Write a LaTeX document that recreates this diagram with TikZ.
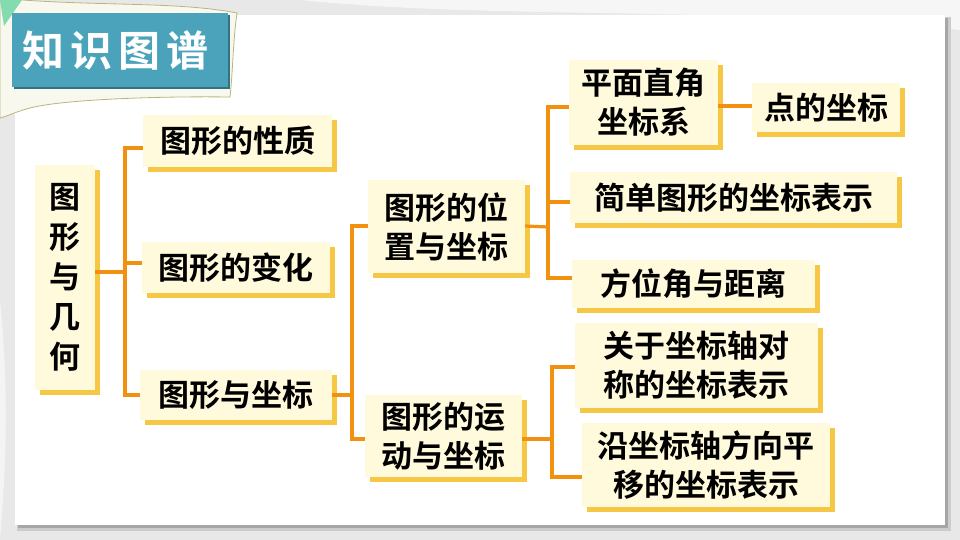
\documentclass[tikz,border=0pt]{standalone}
\usepackage{fontspec}
\newfontfamily\cjk{Noto Sans CJK SC}[BoldFont={Noto Sans CJK SC Bold}]
\definecolor{boxfill}{HTML}{FFFADB}
\definecolor{boxshadow}{HTML}{F6C744}
\definecolor{conncol}{HTML}{F2900F}
\definecolor{teal}{HTML}{4AA3BB}
\definecolor{bggrey}{HTML}{E8E8E8}
\definecolor{papercol}{HTML}{F9F8EF}
\definecolor{paperline}{HTML}{B9B57F}
\tikzset{
  box/.style={fill=boxfill, inner sep=0pt, align=center,
    font=\cjk\bfseries\fontsize{31}{39}\selectfont,
    preaction={fill=boxshadow, transform canvas={shift={(5pt,-5pt)}}}},
  conn/.style={draw=conncol, line width=3.2pt, line join=miter},
}
\begin{document}
\begin{tikzpicture}[x=1pt,y=-1pt]
\useasboundingbox (0,0) rectangle (960,540);
% background
\fill[bggrey] (0,0) rectangle (960,540);
\fill[white!60!bggrey] (300,0) .. controls (500,20) and (700,5) .. (960,30) -- (960,0) -- cycle;
\fill[white!50!bggrey] (0,300) .. controls (10,400) and (5,480) .. (0,540) -- cycle;
% panel shadow and panel
\fill[black!20] (17,17) rectangle (951,531);
\fill[black!35] (18,18) rectangle (948,528);
\fill[white] (15,15) rectangle (945,525);
% paper behind title
\filldraw[fill=papercol, draw=paperline, line width=0.8pt]
  (22,0) .. controls (110,6) and (180,2) .. (237,13)
  .. controls (233,40) and (233,70) .. (230,97)
  .. controls (150,96) and (60,100) .. (30,108)
  .. controls (15,112) and (8,116) .. (0,118) -- (0,0) -- cycle;
\fill[green!35!teal!60!white] (0,0) -- (22,0) -- (4,26) -- cycle;
% title
\fill[teal!70!black] (14,15) rectangle (230,89);
\fill[teal] (12,13) rectangle (228,87);
\node[text=white, font=\cjk\bfseries\fontsize{42}{42}\selectfont] (titletext) at (115.5,50.5)
  {知\hspace{6pt}识\hspace{6pt}图\hspace{6pt}谱};
% nodes
\node[box, minimum width=60pt, minimum height=225pt, font=\cjk\bfseries\fontsize{31}{40}\selectfont] (root) at (65,277.5) {图\\形\\与\\几\\何};
\node[box, minimum width=189pt, minimum height=52pt] (p1) at (237.5,141) {图形的性质};
\node[box, minimum width=188pt, minimum height=51pt] (p2) at (236,267.5) {图形的变化};
\node[box, minimum width=192pt, minimum height=50pt] (p3) at (236,395) {图形与坐标};
\node[box, minimum width=157pt, minimum height=93pt] (q1) at (446.5,226.5) {图形的位\\置与坐标};
\node[box, minimum width=157pt, minimum height=82pt] (q2) at (443.5,436) {图形的运\\动与坐标};
\node[box, minimum width=149pt, minimum height=85pt] (r1) at (643.5,102.5) {平面直角\\坐标系};
\node[box, minimum width=148pt, minimum height=49pt] (s1) at (826,107.5) {点的坐标};
\node[box, minimum width=327pt, minimum height=51pt] (r2) at (733.5,197.5) {简单图形的坐标表示};
\node[box, minimum width=243pt, minimum height=48pt] (r3) at (693.5,284) {方位角与距离};
\node[box, minimum width=243pt, minimum height=85pt] (r4) at (696.5,365.5) {关于坐标轴对\\称的坐标表示};
\node[box, minimum width=248pt, minimum height=84pt] (r5) at (706,465) {沿坐标轴方向平\\移的坐标表示};
% junctions
\coordinate (j1) at (125,272);
\coordinate (j2) at (352,395);
\coordinate (j3) at (548,227);
\coordinate (j4) at (552,439);
% connectors
\draw[conn] ([yshift=5.5pt]root.east) -- (j1);
\draw[conn] ([yshift=-7pt]p1.west) -| (j1) |- ([yshift=0pt]p3.west);
\draw[conn] ([yshift=4.5pt]p2.west) -- ([yshift=4.5pt]p2.west -| j1);
\draw[conn] (p3.east) -- (j2);
\draw[conn] ([yshift=0.5pt]q1.west) -| (j2) |- ([yshift=-3pt]q2.west);
\draw[conn] ([yshift=0.5pt]q1.east) -- (j3);
\draw[conn] ([yshift=-4.5pt]r1.west) -| (j3) |- ([yshift=6pt]r3.west);
\draw[conn] ([yshift=-4.5pt]r2.west -| j3) -- ([yshift=-4.5pt]r2.west);
\draw[conn] ([yshift=-3.5pt]r1.east) -- ([yshift=-3.5pt]r1.east -| s1.west);
\draw[conn] ([yshift=-3pt]q2.east) -- (j4);
\draw[conn] ([yshift=-1.5pt]r4.west) -| (j4) |- ([yshift=-12pt]r5.west);
\end{tikzpicture}
\end{document}
